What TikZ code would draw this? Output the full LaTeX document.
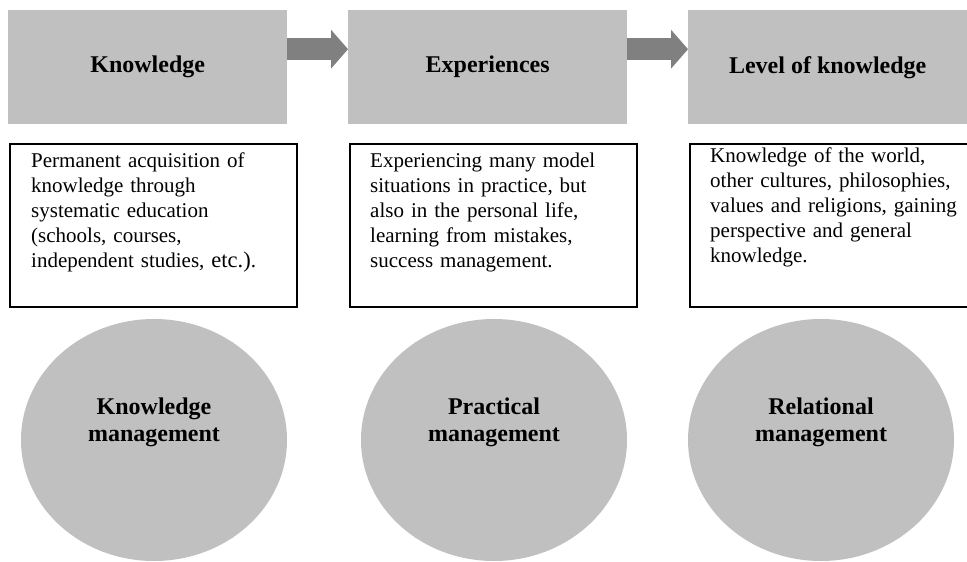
\documentclass[tikz,border=0pt]{standalone}
\usepackage{fontspec}
\setmainfont{Liberation Serif}
\usetikzlibrary{shapes.geometric,arrows.meta}
\definecolor{boxgray}{RGB}{192,192,192}
\definecolor{arrowgray}{RGB}{128,128,128}
\tikzset{headbox/.style={rectangle,fill=boxgray,minimum width=279pt,minimum height=114pt,inner sep=0pt,anchor=north west,font=\fontsize{24}{28}\selectfont\bfseries}}
\tikzset{descbox/.style={rectangle,draw=black,line width=1.6pt,minimum width=287pt,minimum height=163pt,inner sep=0pt,anchor=north west}}
\tikzset{desctext/.style={anchor=base west,inner sep=0pt,text width=265pt,align=left,font=\fontsize{21}{25}\selectfont}}
\tikzset{areablob/.style={ellipse,fill=boxgray,minimum width=266pt,minimum height=242pt,inner sep=0pt}}
\tikzset{areatext/.style={align=center,inner sep=0pt,font=\fontsize{24}{27}\selectfont\bfseries}}
\tikzset{flowarrow/.style={draw=arrowgray,line width=22pt,-{Triangle[length=17pt,width=39pt,line width=0pt]}}}

\begin{document}
\begin{tikzpicture}[x=1pt,y=-1pt]
    \useasboundingbox (0,0) rectangle (967,562);
    % grey headings, text boxes and ellipses
    \foreach \i/\bx/\dx/\cx/\head/\area in {1/8/9/154/{Knowledge}/{Knowledge\\management},
        2/348/349/494/{Experiences}/{Practical\\management},
        3/688/689/821/{Level of knowledge}/{Relational\\management}}
    {
        \node[headbox] (head\i) at (\bx,10) {\head};
        \node[descbox] (desc\i) at (\dx,143) {};
        \node[areablob] (area\i) at (\cx,440) {};
        \node[areatext] (areatext\i) at ([yshift=18pt]area\i.center) {\area};
    }
    % descriptions
    \node[desctext] (txt1) at ([shift={(22pt,-24pt)}]desc1.north west)
        {Permanent acquisition of\\knowledge through\\systematic education\\(schools, courses,\\independent studies, {\fontsize{22.5}{25}\selectfont etc.)}.};
    \node[desctext] (txt2) at ([shift={(21pt,-24pt)}]desc2.north west)
        {Experiencing many model\\situations in practice, but\\also in the personal life,\\learning from mistakes,\\success management.};
    \node[desctext] (txt3) at ([shift={(21pt,-19pt)}]desc3.north west)
        {Knowledge of the world,\\other cultures, philosophies,\\values and religions, gaining\\perspective and general\\knowledge.};
    % arrows between headings
    \draw[flowarrow] ([yshift=18pt]head1.east) -- ([yshift=18pt]head2.west);
    \draw[flowarrow] ([yshift=18pt]head2.east) -- ([yshift=18pt]head3.west);
\end{tikzpicture}
\end{document}
